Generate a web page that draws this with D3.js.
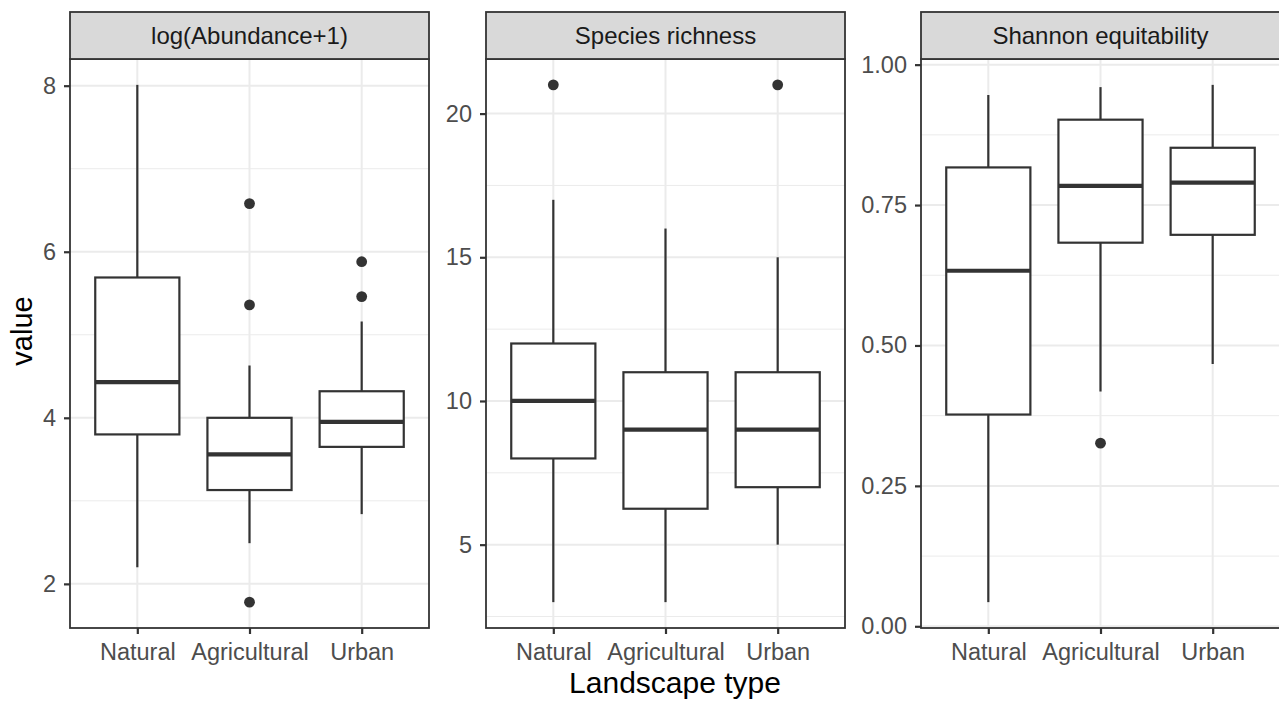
<!DOCTYPE html>
<html>
<head>
<meta charset="utf-8">
<script src="https://cdn.jsdelivr.net/npm/d3@7"></script>
<style>
  body { margin: 0; background: #fff; }
  svg { display: block; font-family: "Liberation Sans", Arial, sans-serif; }
</style>
</head>
<body>
<svg id="chart" width="1279" height="701"></svg>
<script>
// categories and facets
const categories = ["Natural", "Agricultural", "Urban"];
const facetTitles = ["log(Abundance+1)", "Species richness", "Shannon equitability"];

// five-number summaries per category: [lower whisker, Q1, median, Q3, upper whisker]
const abundanceStats = [[2.20, 3.80, 4.43, 5.69, 8.01], [2.49, 3.13, 3.56, 4.00, 4.63], [2.84, 3.65, 3.95, 4.32, 5.16]];
const abundanceOutliers = [[], [6.58, 5.36, 1.78], [5.88, 5.46]];
const richnessStats = [[3, 8, 10, 12, 17], [3, 6.25, 9, 11, 16], [5, 7, 9, 11, 15]];
const richnessOutliers = [[21], [], [21]];
const equitabilityStats = [[0.043, 0.377, 0.633, 0.817, 0.946], [0.418, 0.683, 0.784, 0.902, 0.960], [0.467, 0.697, 0.790, 0.852, 0.964]];
const equitabilityOutliers = [[], [0.326], []];

// tick labels
const abundanceTicks = [2, 4, 6, 8];
const richnessTicks = [5, 10, 15, 20];
const equitabilityTicks = [0, 0.25, 0.5, 0.75, 1];

const facets = [
    {title: facetTitles[0], stats: abundanceStats, outliers: abundanceOutliers, ticks: abundanceTicks, fmt: d3.format("d"), left: 70},
    {title: facetTitles[1], stats: richnessStats, outliers: richnessOutliers, ticks: richnessTicks, fmt: d3.format("d"), left: 486},
    {title: facetTitles[2], stats: equitabilityStats, outliers: equitabilityOutliers, ticks: equitabilityTicks, fmt: d3.format(".2f"), left: 921}
];

let stripTop = 12, panelTop = 59, panelBottom = 628, panelW = 359;
let ink = "#333333";

const svg = d3.select("#chart");

facets.forEach(function(f) {
    let allVals = [];
    f.stats.forEach(function(s) { allVals.push(s[0], s[4]); });
    f.outliers.forEach(function(o) { allVals = allVals.concat(o); });
    let lo = d3.min(allVals), hi = d3.max(allVals), pad = (hi - lo) * 0.05;

    let y = d3.scaleLinear().domain([lo - pad, hi + pad]).range([panelBottom, panelTop]);
    let x = d3.scalePoint().domain(categories).range([0, panelW]).padding(0.6);
    let boxW = x.step() * 0.75;

    let g = svg.append("g").attr("transform", "translate(" + f.left + ",0)");

    // minor grid (midpoints between majors, extended by one step)
    let step = f.ticks[1] - f.ticks[0];
    let minor = [];
    for (let i = -1; i < f.ticks.length; i++) {
        let m = f.ticks[0] + step * (i + 0.5);
        if (m > y.domain()[0] && m < y.domain()[1]) minor.push(m);
    }
    g.selectAll(".minor").data(minor).enter().append("line")
        .attr("x1", 0).attr("x2", panelW)
        .attr("y1", d => y(d)).attr("y2", d => y(d))
        .attr("stroke", "#ebebeb").attr("stroke-width", 1);
    g.selectAll(".major").data(f.ticks).enter().append("line")
        .attr("x1", 0).attr("x2", panelW)
        .attr("y1", d => y(d)).attr("y2", d => y(d))
        .attr("stroke", "#ebebeb").attr("stroke-width", 2);
    g.selectAll(".vgrid").data(categories).enter().append("line")
        .attr("x1", d => x(d)).attr("x2", d => x(d))
        .attr("y1", panelTop).attr("y2", panelBottom)
        .attr("stroke", "#ebebeb").attr("stroke-width", 2);

    // boxes
    let box = g.selectAll(".box").data(f.stats).enter().append("g");
    box.append("line")
        .attr("x1", (d, i) => x(categories[i])).attr("x2", (d, i) => x(categories[i]))
        .attr("y1", d => y(d[0])).attr("y2", d => y(d[1]))
        .attr("stroke", ink).attr("stroke-width", 2.2);
    box.append("line")
        .attr("x1", (d, i) => x(categories[i])).attr("x2", (d, i) => x(categories[i]))
        .attr("y1", d => y(d[3])).attr("y2", d => y(d[4]))
        .attr("stroke", ink).attr("stroke-width", 2.2);
    box.append("rect")
        .attr("x", (d, i) => x(categories[i]) - boxW / 2)
        .attr("width", boxW)
        .attr("y", d => y(d[3]))
        .attr("height", d => y(d[1]) - y(d[3]))
        .attr("fill", "#fff").attr("stroke", ink).attr("stroke-width", 2.2);
    box.append("line")
        .attr("x1", (d, i) => x(categories[i]) - boxW / 2).attr("x2", (d, i) => x(categories[i]) + boxW / 2)
        .attr("y1", d => y(d[2])).attr("y2", d => y(d[2]))
        .attr("stroke", ink).attr("stroke-width", 4.2);

    // outliers
    f.outliers.forEach(function(o, i) {
        g.selectAll(null).data(o).enter().append("circle")
            .attr("cx", x(categories[i])).attr("cy", d => y(d))
            .attr("r", 5.4).attr("fill", ink);
    });

    // panel border
    g.append("rect").attr("x", 0).attr("y", panelTop)
        .attr("width", panelW).attr("height", panelBottom - panelTop)
        .attr("fill", "none").attr("stroke", ink).attr("stroke-width", 1.8);

    // strip
    g.append("rect").attr("x", 0).attr("y", stripTop)
        .attr("width", panelW).attr("height", panelTop - stripTop)
        .attr("fill", "#d9d9d9").attr("stroke", ink).attr("stroke-width", 1.8);
    g.append("text").attr("x", panelW / 2).attr("y", (stripTop + panelTop) / 2)
        .attr("dy", "0.35em").attr("text-anchor", "middle")
        .attr("font-size", 24).attr("fill", "#1a1a1a").text(f.title);

    // axes
    let yAxis = g.append("g").call(d3.axisLeft(y).tickValues(f.ticks).tickFormat(f.fmt).tickSize(6).tickPadding(8));
    let xAxis = g.append("g").attr("transform", "translate(0," + panelBottom + ")")
        .call(d3.axisBottom(x).tickSize(6).tickPadding(9));
    [yAxis, xAxis].forEach(function(a) {
        a.select(".domain").remove();
        a.selectAll(".tick line").attr("stroke", ink).attr("stroke-width", 2.2);
        a.selectAll(".tick text").attr("font-size", 23.5).attr("fill", "#4d4d4d")
            .attr("font-family", "Liberation Sans, Arial, sans-serif");
    });
});

// axis titles
svg.append("text").attr("x", 675).attr("y", 693)
    .attr("text-anchor", "middle").attr("font-size", 30).attr("fill", "#000")
    .text("Landscape type");
svg.append("text").attr("transform", "translate(32,331) rotate(-90)")
    .attr("text-anchor", "middle").attr("font-size", 29).attr("fill", "#000")
    .text("value");
</script>
</body>
</html>
